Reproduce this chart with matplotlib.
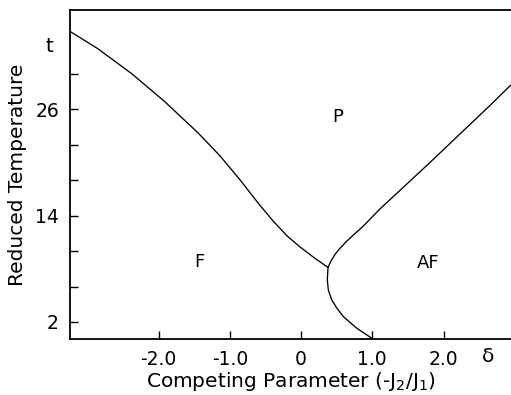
import matplotlib
matplotlib.use("Agg")
import matplotlib.pyplot as plt

# phase boundaries: competing parameter (-J2/J1) vs reduced temperature
fp_x = [-3.242, -2.849, -2.372, -1.909, -1.446, -1.137, -0.856, -0.604,
        -0.393, -0.196, -0.014, 0.196, 0.379]
fp_t = [34.82, 32.85, 30.02, 26.86, 23.36, 20.76, 18.05, 15.45,
        13.41, 11.72, 10.47, 9.18, 8.16]

afp_x = [0.379, 0.421, 0.477, 0.547, 0.632, 0.744, 0.870, 1.109,
         1.389, 1.811, 2.232, 2.653, 2.947]
afp_t = [8.16, 8.89, 9.63, 10.31, 11.04, 11.89, 12.79, 14.77,
         16.86, 20.02, 23.24, 26.46, 28.78]

faf_x = [0.379, 0.369, 0.383, 0.431, 0.501, 0.594, 0.782, 0.992]
faf_t = [8.16, 6.75, 5.62, 4.49, 3.58, 2.60, 1.29, 0.16]

x_ticks = [-2, -1, 0, 1, 2]
x_labels = ["-2.0", "-1.0", "0", "1.0", "2.0"]
y_ticks = [2, 6, 10, 14, 18, 22, 26, 30]
y_labels = ["2", "", "", "14", "", "", "26", ""]

phases = [("P", 0.52, 25.2), ("F", -1.42, 8.78), ("AF", 1.78, 8.67)]

plt.rcParams["font.family"] = "DejaVu Sans"

fig = plt.figure(figsize=(5.11, 3.95), dpi=100)
ax = fig.add_axes([0.137, 0.142, 0.863, 0.833])

for xs, ts in [(fp_x, fp_t), (afp_x, afp_t), (faf_x, faf_t)]:
    ax.plot(xs, ts, color="black", lw=0.95, solid_capstyle="round",
            solid_joinstyle="round")

for name, px, pt in phases:
    ax.text(px, pt, name, fontsize=13, ha="center", va="center")

ax.set_xlim(-3.242, 2.947)
ax.set_ylim(0.08, 37.25)

ax.set_xticks(x_ticks)
ax.set_xticklabels(x_labels)
ax.set_yticks(y_ticks)
ax.set_yticklabels(y_labels)
ax.tick_params(direction="in", length=6, width=1.0, labelsize=13.5, pad=8)

# axis symbols sitting in the tick label rows
ax.text(2.62, -1.9, "δ", fontsize=14.5, ha="center", va="center",
        clip_on=False)
ax.text(-3.242 - 0.29, 33.1, "t", fontsize=14.5, ha="center", va="center",
        clip_on=False)

ax.set_xlabel("Competing Parameter (-J$_2$/J$_1$)", fontsize=14.5, labelpad=1)
ax.set_ylabel("Reduced Temperature", fontsize=14.5, labelpad=6)

ax.spines["right"].set_visible(False)
for side in ["left", "top", "bottom"]:
    ax.spines[side].set_linewidth(1.3)

fig.savefig("out.png", dpi=100)
